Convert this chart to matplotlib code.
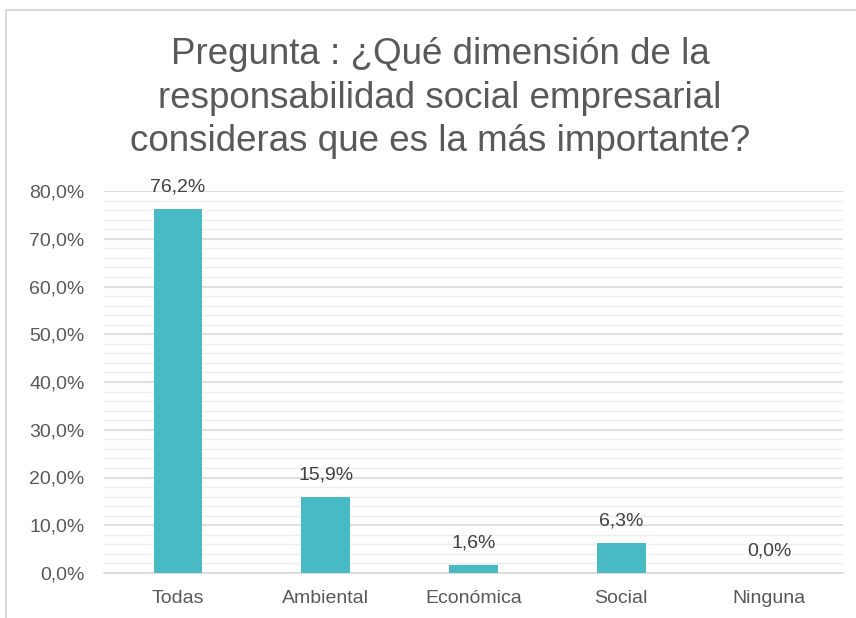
import matplotlib
matplotlib.use("Agg")
import matplotlib.pyplot as plt
from matplotlib.patches import Rectangle
from matplotlib.ticker import MultipleLocator, FuncFormatter

# datos del gráfico
categorias = ['Todas', 'Ambiental', 'Económica', 'Social', 'Ninguna']
porcentajes = [76.2, 15.9, 1.6, 6.3, 0.0]
titulo = 'Pregunta : ¿Qué dimensión de la\nresponsabilidad social empresarial\nconsideras que es la más importante?'

plt.rcParams['font.family'] = ['Liberation Sans', 'DejaVu Sans']

fig = plt.figure(figsize=(8.56, 6.18), dpi=100)
ax = fig.add_axes([104 / 856, 1 - 573 / 618, (843 - 104) / 856, (573 - 191) / 618])

# marco del área del gráfico
fig.patches.append(Rectangle((6 / 856, -0.05), 1.0, 1 - 10 / 618 + 0.05,
                             transform=fig.transFigure, fill=False,
                             edgecolor='#D9D9D9', linewidth=1.5))

x = range(len(categorias))
ax.bar(x, porcentajes, width=0.33, color='#47BAC4', zorder=3)

for xi, v in zip(x, porcentajes):
    ax.annotate(f'{v:.1f}%'.replace('.', ','), (xi, v), xytext=(0, 16),
                textcoords='offset points', ha='center', va='center',
                fontsize=14, color='#404040')

ax.set_xlim(-0.5, len(categorias) - 0.5)
ax.set_ylim(0, 80)
ax.yaxis.set_major_locator(MultipleLocator(10))
ax.yaxis.set_minor_locator(MultipleLocator(2))
ax.yaxis.set_major_formatter(FuncFormatter(lambda v, p: f'{v:.1f}%'.replace('.', ',')))
ax.grid(axis='y', which='major', color='#D9D9D9', linewidth=1.2, zorder=0)
ax.grid(axis='y', which='minor', color='#EFEFEF', linewidth=1.0, zorder=0)

ax.set_xticks(list(x))
ax.set_xticklabels(categorias)
ax.tick_params(axis='both', which='both', length=0, labelsize=14, colors='#595959')
ax.tick_params(axis='x', pad=12)
ax.tick_params(axis='y', pad=14)

for s in ['top', 'right', 'left']:
    ax.spines[s].set_visible(False)
ax.spines['bottom'].set_color('#D9D9D9')
ax.spines['bottom'].set_linewidth(1.2)

fig.text(440 / 856, 1 - 98 / 618, titulo, ha='center', va='center',
         fontsize=26.5, color='#595959', linespacing=1.32)

fig.savefig('out.png', dpi=100, facecolor='white')
